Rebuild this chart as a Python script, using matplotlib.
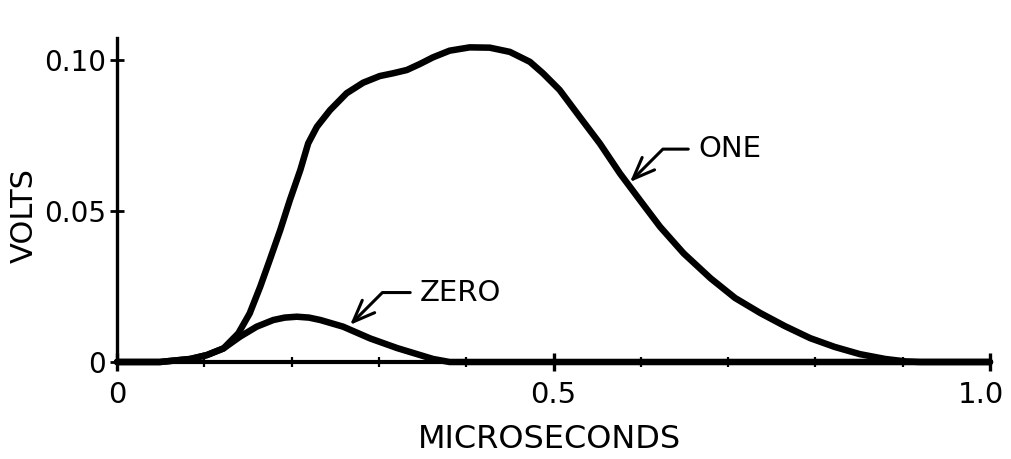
import matplotlib
matplotlib.use("Agg")
import matplotlib.pyplot as plt
import matplotlib.transforms as mtransforms
from matplotlib.ticker import MultipleLocator

# =====================================
# DATA
# =====================================
one_t = [0.000, 0.049, 0.084, 0.103, 0.122, 0.139, 0.152, 0.164, 0.175, 0.187,
         0.198, 0.210, 0.219, 0.229, 0.244, 0.263, 0.282, 0.301, 0.316, 0.332,
         0.347, 0.362, 0.381, 0.404, 0.427, 0.450, 0.473, 0.488, 0.507, 0.530,
         0.553, 0.576, 0.599, 0.622, 0.649, 0.680, 0.708, 0.737, 0.765, 0.794,
         0.822, 0.851, 0.880, 0.903, 0.920, 1.000]
one_v = [0.0000, 0.0000, 0.0010, 0.0023, 0.0045, 0.0095, 0.0161, 0.0249, 0.0338, 0.0437,
         0.0536, 0.0636, 0.0724, 0.0779, 0.0834, 0.0890, 0.0925, 0.0947, 0.0956, 0.0967,
         0.0987, 0.1009, 0.1031, 0.1042, 0.1041, 0.1027, 0.0994, 0.0956, 0.0901, 0.0812,
         0.0724, 0.0625, 0.0536, 0.0448, 0.0360, 0.0277, 0.0212, 0.0162, 0.0119, 0.0079,
         0.0050, 0.0026, 0.0010, 0.0002, 0.0000, 0.0000]

zero_t = [0.000, 0.049, 0.084, 0.103, 0.122, 0.141, 0.160, 0.179, 0.192, 0.206,
          0.220, 0.233, 0.259, 0.290, 0.321, 0.362, 0.381, 1.000]
zero_v = [0.0000, 0.0000, 0.0010, 0.0023, 0.0045, 0.0084, 0.0117, 0.0139, 0.0147, 0.0150,
          0.0147, 0.0139, 0.0117, 0.0078, 0.0046, 0.0010, 0.0000, 0.0000]

x_ticks = [0, 0.5, 1.0]
x_labels = ["0", "0.5", "1.0"]
y_ticks = [0, 0.05, 0.10]
y_labels = ["0", "0.05", "0.10"]

# label text, text position, arrow tip
one_label = ("ONE", (0.6655, 0.0705), (0.5876, 0.0596))
zero_label = ("ZERO", (0.347, 0.0230), (0.267, 0.0123))

# =====================================
# FIGURE
# =====================================
plt.rcParams["font.family"] = ["DejaVu Sans"]

fig = plt.figure(figsize=(10.11, 4.59), dpi=100)
ax = fig.add_axes([117 / 1011, 1 - 362 / 459, 873 / 1011, 324 / 459])

ax.plot(one_t, one_v, color="black", lw=4.7, solid_capstyle="round",
        solid_joinstyle="round", clip_on=False, zorder=3)
ax.plot(zero_t, zero_v, color="black", lw=4.7, solid_capstyle="round",
        solid_joinstyle="round", clip_on=False, zorder=3)

ax.set_xlim(0, 1.0)
ax.set_ylim(0, 0.1073)

for side in ["top", "right"]:
    ax.spines[side].set_visible(False)
ax.spines["left"].set_linewidth(2.4)
ax.spines["bottom"].set_linewidth(3.0)

ax.set_xticks(x_ticks)
ax.set_xticklabels(x_labels)
ax.set_yticks(y_ticks)
ax.set_yticklabels(y_labels)
ax.xaxis.set_minor_locator(MultipleLocator(0.1))

ax.tick_params(axis="x", which="major", direction="inout", length=13, width=2.4,
               pad=7, labelsize=21)
ax.tick_params(axis="x", which="minor", direction="inout", length=7, width=1.6)
ax.tick_params(axis="y", which="major", direction="inout", length=10, width=2.0,
               pad=3, labelsize=20)

# the last x label sits a little left of its tick, as in the drawing
last = ax.get_xticklabels()[-1]
last.set_transform(last.get_transform() +
                   mtransforms.ScaledTranslation(-9 / 100, 0, fig.dpi_scale_trans))

ax.set_xlabel("MICROSECONDS", fontsize=23)
ax.xaxis.set_label_coords(0.495, -0.2407)
ax.xaxis.label.set_va("center")
ax.set_ylabel("VOLTS", fontsize=22)
ax.yaxis.set_label_coords(-0.1065, 0.4537)
ax.yaxis.label.set_va("center")

# ANNOTATIONS
for text, pos, tip in [one_label, zero_label]:
    ax.annotate(text, xy=tip, xytext=pos, fontsize=21, ha="left", va="center",
                arrowprops=dict(arrowstyle="->,head_length=0.75,head_width=0.3",
                                connectionstyle="angle,angleA=0,angleB=45,rad=0",
                                relpos=(0, 0.5), shrinkA=5, shrinkB=0,
                                lw=2.2, color="black"))

plt.savefig("out.png", dpi=100)
plt.close()
